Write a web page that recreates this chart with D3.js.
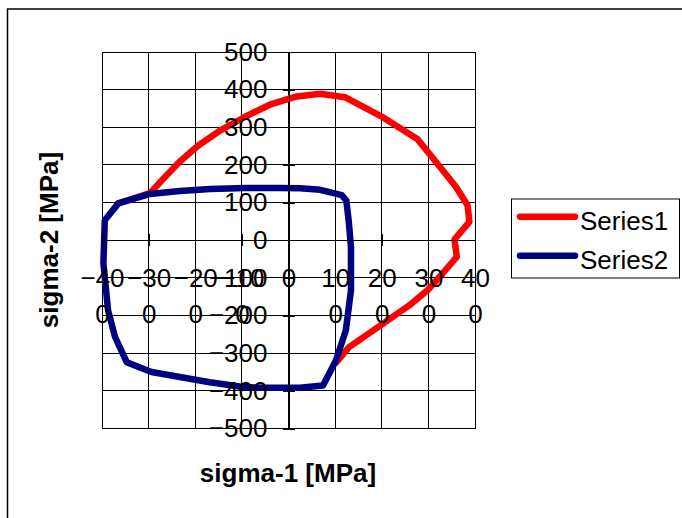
<!DOCTYPE html>
<html>
<head>
<meta charset="utf-8">
<script src="https://cdn.jsdelivr.net/npm/d3@7"></script>
<style>
  html, body { margin: 0; padding: 0; background: #fff; }
  svg { display: block; }
  text { font-family: "Liberation Sans", Arial, sans-serif; fill: #000; }
</style>
</head>
<body>
<svg id="chart" width="682" height="518"></svg>
<script>
// ---- data ----
const xTicks = [-400, -300, -200, -100, 0, 100, 200, 300, 400];
const yTicks = [-500, -400, -300, -200, -100, 0, 100, 200, 300, 400, 500];
const seriesNames = ["Series1", "Series2"];
const seriesColors = ["#FF0000", "#000080"];

const series1X = [-365, -297, -265, -233, -194, -147, -93, -40, 14, 68, 121, 198, 277, 319, 359, 384, 388, 356, 361, 330, 298, 259, 202, 130, 102];
const series1Y = [98, 125, 168, 209, 251, 291, 328, 360, 381, 389, 380, 330, 268, 204, 142, 93, 49, 2, -44, -89, -133, -173, -222, -284, -325];

const series2X = [-365, -297, -233, -168, -93, -18, 25, 68, 114, 124, 129, 134, 134, 123, 102, 74, 24, -40, -98, -169, -294, -347, -372, -387, -397, -394, -365];
const series2Y = [98, 123, 131, 136, 139, 139, 138, 134, 120, 106, 53, -18, -133, -239, -319, -386, -392, -392, -390, -377, -350, -324, -257, -186, -61, 53, 98];

const xTitle = "sigma-1 [MPa]";
const yTitle = "sigma-2 [MPa]";

// ---- layout ----
const FONT = 26;
const svg = d3.select("#chart");
const plot = { left: 102, right: 475, top: 52, bottom: 428.5 };

const x = d3.scaleLinear().domain([-400, 400]).range([plot.left, plot.right]);
const y = d3.scaleLinear().domain([-500, 500]).range([plot.bottom, plot.top]);

// chart area border (extends past the window)
svg.append("rect")
  .attr("x", 7.5).attr("y", 9).attr("width", 720).attr("height", 560)
  .attr("fill", "#fff").attr("stroke", "#000").attr("stroke-width", 1.5);

// gridlines
const grid = svg.append("g").attr("stroke", "#000").attr("stroke-width", 1).attr("shape-rendering", "crispEdges");
grid.selectAll("line.v").data(xTicks).join("line")
  .attr("class", "v")
  .attr("x1", d => x(d)).attr("x2", d => x(d))
  .attr("y1", plot.top).attr("y2", plot.bottom);
grid.selectAll("line.h").data(yTicks).join("line")
  .attr("class", "h")
  .attr("x1", plot.left).attr("x2", plot.right)
  .attr("y1", d => y(d)).attr("y2", d => y(d));
grid.append("rect")
  .attr("x", plot.left).attr("y", plot.top)
  .attr("width", plot.right - plot.left).attr("height", plot.bottom - plot.top)
  .attr("fill", "none");

// series
const line = d3.line().x(d => x(d[0])).y(d => y(d[1]));
const s1 = series1X.map((v, i) => [v, series1Y[i]]);
const s2 = series2X.map((v, i) => [v, series2Y[i]]);
[s1, s2].forEach((pts, i) => {
  svg.append("path")
    .datum(pts)
    .attr("d", line)
    .attr("fill", "none")
    .attr("stroke", seriesColors[i])
    .attr("stroke-width", 6.5)
    .attr("stroke-linejoin", "round")
    .attr("stroke-linecap", "round");
});

// axes crossing at zero
const yAxis = svg.append("g")
  .attr("transform", `translate(${x(0)},0)`)
  .call(d3.axisLeft(y).tickValues(yTicks).tickSize(0).tickPadding(21).tickFormat(d3.format("d")));
yAxis.select(".domain").attr("stroke", "#000").attr("shape-rendering", "crispEdges");
yAxis.selectAll(".tick line").attr("x1", -6).attr("x2", 6).attr("stroke", "#000").attr("shape-rendering", "crispEdges");
yAxis.selectAll(".tick text")
  .attr("font-size", FONT).attr("fill", "#000")
  .style("font-family", "'Liberation Sans', Arial, sans-serif");

const xAxis = svg.append("g")
  .attr("transform", `translate(0,${y(0)})`)
  .call(d3.axisBottom(x).tickValues(xTicks).tickSize(0).tickFormat(d3.format("d")));
xAxis.select(".domain").attr("stroke", "#000").attr("shape-rendering", "crispEdges");
xAxis.selectAll(".tick line").attr("y1", -6).attr("y2", 6).attr("stroke", "#000").attr("shape-rendering", "crispEdges");
xAxis.selectAll(".tick text")
  .attr("font-size", FONT).attr("fill", "#000")
  .attr("dy", null).attr("y", null)
  .style("font-family", "'Liberation Sans', Arial, sans-serif")
  .each(function(d) {
    const t = d3.select(this);
    const s = d3.format("d")(d);
    t.text(null);
    const parts = s.length > 1 ? [s.slice(0, -1), s.slice(-1)] : [s];
    parts.forEach((p, k) => {
      t.append("tspan").attr("x", 0).attr("y", 46.5 + k * 36.7).text(p);
    });
  });

// axis titles
svg.append("text")
  .attr("x", 288).attr("y", 482)
  .attr("text-anchor", "middle")
  .attr("font-size", FONT).attr("font-weight", "bold")
  .text(xTitle);
svg.append("text")
  .attr("transform", "translate(58,240) rotate(-90)")
  .attr("text-anchor", "middle")
  .attr("font-size", FONT).attr("font-weight", "bold")
  .text(yTitle);

// legend
const lg = svg.append("g");
lg.append("rect")
  .attr("x", 511.5).attr("y", 199).attr("width", 168).attr("height", 79)
  .attr("fill", "#fff").attr("stroke", "#000").attr("stroke-width", 1);
seriesNames.forEach((name, i) => {
  const cy = 216.7 + i * 39;
  lg.append("line")
    .attr("x1", 520).attr("x2", 575).attr("y1", cy).attr("y2", cy)
    .attr("stroke", seriesColors[i]).attr("stroke-width", 6.5).attr("stroke-linecap", "round");
  lg.append("text")
    .attr("x", 580).attr("y", cy + 13)
    .attr("font-size", FONT)
    .text(name);
});
</script>
</body>
</html>
